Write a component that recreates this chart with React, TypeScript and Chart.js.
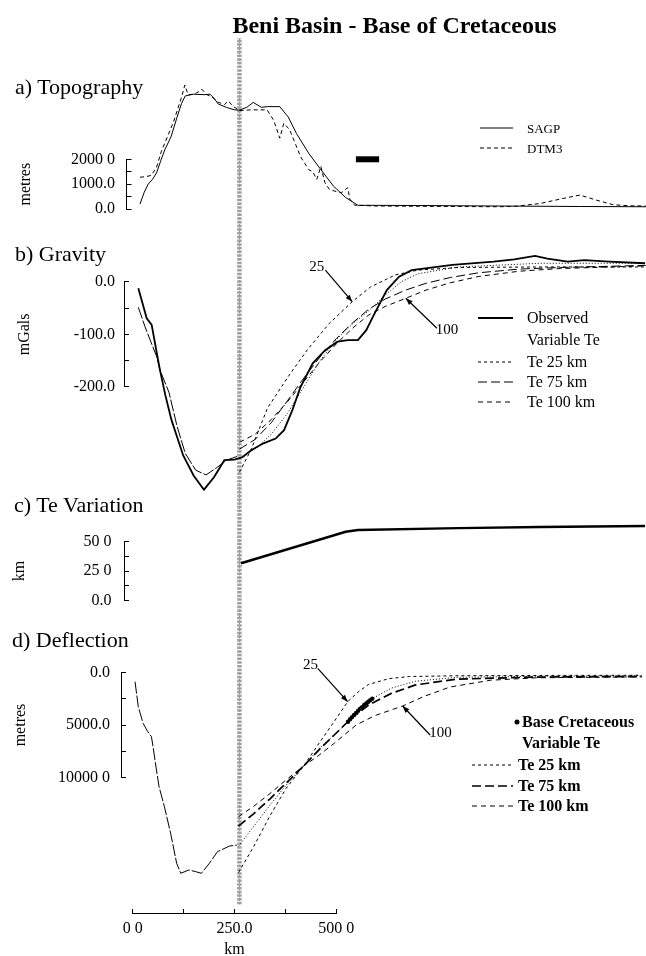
import React, { useEffect, useRef } from "react";
import { Chart, registerables } from "chart.js";

Chart.register(...registerables);

const FONT = "'Liberation Serif', 'Times New Roman', Times, serif";

/* ======================= DATA ======================= */
const chartTitle = "Beni Basin - Base of Cretaceous";
const panelTitles = ["a) Topography", "b) Gravity", "c) Te Variation", "d) Deflection"];

// x axis (km)
const xTickValues = [0, 250, 500];
const xTickLabels = ["0 0", "250.0", "500 0"];
const xAxisTitle = "km";
const breakKm = 262; // plate break (hatched line)
const breakSpan = [0.01, 1];

// a) Topography (metres)
const topoTickValues = [0, 1000, 2000];
const topoTickLabels = ["0.0", "1000.0", "2000 0"];
const sagpKm = [18, 28, 38, 48.5, 58.5, 68, 78.7, 94, 109, 120, 129, 149, 175, 190, 200, 210, 230, 250, 262, 280, 296, 316, 331, 361, 382, 402, 432, 462, 493, 523, 553, 700, 900, 1100, 1260];
const sagpM = [200, 660, 1000, 1190, 1450, 1900, 2380, 2900, 3700, 4250, 4550, 4620, 4600, 4620, 4450, 4225, 4090, 3990, 3980, 4090, 4290, 4090, 4120, 4120, 3700, 3040, 2245, 1585, 920, 460, 150, 140, 120, 100, 90];
const dtmKm = [18, 32, 45, 58, 70, 85, 100, 110, 120, 128, 136, 150, 160, 170, 180, 195, 210, 225, 235, 245, 262, 290, 330, 345, 352, 361, 371, 385, 400, 412, 420, 432, 442, 452, 462, 472, 483, 500, 513, 528, 533, 545, 600, 800, 900, 940, 1000, 1050, 1098, 1140, 1180, 1220, 1260];
const dtmM = [1280, 1300, 1350, 1650, 2300, 2900, 3500, 4000, 4500, 4990, 4600, 4620, 4700, 4820, 4620, 4500, 4300, 4200, 4350, 4150, 3960, 3990, 3990, 3600, 3300, 2850, 3445, 3200, 2600, 2110, 1900, 1585, 1500, 1190, 1715, 1057, 790, 700, 660, 860, 400, 150, 120, 100, 90, 110, 220, 400, 560, 350, 170, 130, 120];
const markKm = [548, 605];
const markM = [2000, 2000];
const topoLegendLabels = ["SAGP", "DTM3"];

// b) Gravity (mGals)
const gravTickValues = [-200, -100, 0];
const gravTickLabels = ["-200.0", "-100.0", "0.0"];
const obsKm = [13.8, 34.4, 46.6, 59, 67, 80, 95, 109, 124, 149.5, 175, 200, 225, 250, 270, 291, 321, 351, 371.6, 392, 412, 442, 472.6, 503, 528, 553, 573.5, 594, 624, 654, 685, 785, 886, 937, 988, 1018, 1068, 1109, 1170, 1258];
const obsMgal = [-12.5, -69.5, -82, -135, -168, -215, -262, -295, -330, -368, -395, -371, -339, -338, -333, -320, -307, -298, -282, -244, -200, -155, -130, -114, -111, -111, -92, -60, -16, 9.5, 22, 32, 38, 42.6, 49, 44, 38, 41, 38, 35];
const gLoadKm = [13.8, 30, 45, 59, 67, 89, 109, 129, 154.7, 180, 205, 230.5, 256];
const gLoadMgal = [-48.6, -85, -115, -142.5, -168, -210, -275, -326, -358, -367, -354, -339, -332];
const gTe25Km = [262, 290, 331, 382, 430, 483, 539, 584, 645, 700, 800, 1000, 1260];
const gTe25Mgal = [-362, -320, -240, -180, -128, -79, -38, -10, 13, 22, 27, 28, 28];
const gTe75Km = [262, 300, 340, 380, 420, 460, 500, 540, 580, 620, 670, 720, 780, 850, 950, 1050, 1260];
const gTe75Mgal = [-318, -300, -268, -226, -183, -143, -108, -78, -52, -33, -16, -3, 8, 17, 24, 27, 31];
const gTe100Km = [262, 300, 340, 380, 420, 460, 500, 540, 580, 620, 670.5, 720, 780, 850, 950, 1050, 1260];
const gTe100Mgal = [-305, -290, -262, -228, -190, -152, -118, -88, -63, -47, -31.5, -16, -2, 10, 20, 25, 30];
const gVarKm = [262, 300, 340, 380, 420, 460, 500, 540, 580, 620, 660, 700, 800, 1000, 1260];
const gVarMgal = [-335, -318, -290, -250, -200, -150, -110, -80, -55, -25, 0, 15, 28, 35, 35];
const gravLegendLabels = ["Observed", "Variable Te", "Te 25 km", "Te 75 km", "Te 100 km"];
const gravNoteLabels = ["25", "100"];
const gravNoteTextKm = [452, 772];
const gravNoteTextVal = [28.5, -91.7];
const gravNoteFromKm = [473, 747];
const gravNoteFromVal = [22, -88.5];
const gravNoteToKm = [539, 670.5];
const gravNoteToVal = [-38, -31.5];

// c) Te variation (km)
const teTickValues = [0, 25, 50];
const teTickLabels = ["0.0", "25 0", "50 0"];
const teKm = [266, 523, 553, 800, 1000, 1258];
const teVal = [31.6, 58.5, 60, 61.6, 62.6, 63.4];

// d) Deflection (metres, positive down)
const deflTickValues = [0, 5000, 10000];
const deflTickLabels = ["0.0", "5000.0", "10000 0"];
const dLoadKm = [6, 14, 26, 37, 46.6, 50.6, 59, 65.4, 78.7, 94, 109, 119, 139, 155, 170, 190, 210, 240, 258];
const dLoadM = [890, 3260, 4840, 5600, 6110, 7060, 9270, 10850, 12750, 15270, 18120, 19070, 18760, 18900, 19070, 18120, 17020, 16480, 16400];
const dTe25Km = [262, 300, 340, 380, 423, 460, 500, 532, 560, 584, 634, 685, 800, 1000, 1260];
const dTe25M = [19000, 16500, 13600, 11000, 8900, 6800, 4600, 2790, 1800, 1150, 600, 400, 330, 300, 280];
const dTe75Km = [262, 300, 340, 380, 423, 460, 500, 543, 584, 640, 700, 800, 1000, 1260];
const dTe75M = [14600, 13400, 12000, 10500, 8900, 7400, 5900, 4300, 3100, 2000, 1200, 650, 450, 400];
const dTe100Km = [262, 300, 340, 380, 423, 460, 500, 553, 600, 668, 720, 785, 886, 1000, 1260];
const dTe100M = [13700, 12700, 11500, 10200, 8900, 7900, 6700, 5000, 4100, 3200, 2300, 1400, 750, 520, 430];
const dVarKm = [262, 300, 340, 380, 423, 460, 500, 533, 563, 593, 640, 700, 800, 1000, 1260];
const dVarM = [16500, 14600, 12600, 10700, 8900, 7300, 5900, 4700, 3500, 2500, 1500, 850, 480, 380, 330];
const baseKm = [533, 538, 543, 548, 553, 558, 563, 568, 573, 578, 583, 588, 593];
const baseM = [4690, 4450, 4250, 4050, 3850, 3650, 3450, 3300, 3100, 2950, 2800, 2650, 2500];
const deflLegendLabels = ["Base Cretaceous", "Variable Te", "Te 25 km", "Te 75 km", "Te 100 km"];
const deflNoteLabels = ["25", "100"];
const deflNoteTextKm = [440, 762];
const deflNoteTextVal = [-690, 5760];
const deflNoteFromKm = [458, 736];
const deflNoteFromVal = [-380, 5950];
const deflNoteToKm = [532, 668];
const deflNoteToVal = [2790, 3200];

/* ======================= LAYOUT / STYLE ======================= */
const W = 646;
const H = 956;
const X0 = 132.7; // pixel of 0 km
const PXKM = 0.40728; // pixels per km

const GEO: any = {
  topo: { left: 126.5, top: 159.3, bottom: 209, labelPad: 16.5, titlePad: 16 },
  grav: { left: 124, top: 281.7, bottom: 387, labelPad: 14, titlePad: 15 },
  te: { left: 124, top: 541.7, bottom: 600.3, labelPad: 17.5, titlePad: 10.5 },
  defl: { left: 121, top: 672.3, bottom: 777.7, labelPad: 16, titlePad: 11.5 },
};

const ST: any = {
  sagp: { w: 1, dash: [] },
  dtm: { w: 1, dash: [4, 3] },
  obs: { w: 1.8, dash: [] },
  te25: { w: 1, dash: [3, 3] },
  te75: { w: 1, dash: [9, 4] },
  te75b: { w: 1.7, dash: [9, 4] },
  te100: { w: 1, dash: [5, 4] },
  varTe: { w: 1, dash: [1, 2] },
  load: { w: 1, dash: [12, 2] },
  mark: { w: 6, dash: [] },
  te: { w: 2.4, dash: [] },
};

function pts(km: number[], v: number[]) {
  return km.map((k, i) => ({ x: k, y: v[i] }));
}

function line(km: number[], v: number[], st: any, extra: any = {}) {
  return {
    data: pts(km, v),
    borderColor: "#000",
    backgroundColor: "#000",
    borderWidth: st.w,
    borderDash: st.dash,
    borderCapStyle: "butt",
    pointRadius: 0,
    tension: 0,
    clip: false,
    ...extra,
  };
}

function labelFor(values: number[], labels: string[], v: any) {
  const i = values.findIndex((t) => Math.abs(t - Number(v)) < 1e-6);
  return i >= 0 ? labels[i] : "";
}

function notePlugin(n: any) {
  return {
    id: "arrowNotes",
    afterDatasetsDraw(chart: any) {
      const { ctx } = chart;
      const xs = chart.scales.x;
      const ys = chart.scales.y;
      ctx.save();
      ctx.strokeStyle = "#000";
      ctx.fillStyle = "#000";
      ctx.lineWidth = 1.2;
      n.labels.forEach((lab: string, i: number) => {
        const x1 = xs.getPixelForValue(n.fromKm[i]);
        const y1 = ys.getPixelForValue(n.fromV[i]);
        const x2 = xs.getPixelForValue(n.toKm[i]);
        const y2 = ys.getPixelForValue(n.toV[i]);
        ctx.beginPath();
        ctx.moveTo(x1, y1);
        ctx.lineTo(x2, y2);
        ctx.stroke();
        const a = Math.atan2(y2 - y1, x2 - x1);
        const c = Math.cos(a);
        const s = Math.sin(a);
        const L = 7;
        const hw = 2.6;
        ctx.beginPath();
        ctx.moveTo(x2, y2);
        ctx.lineTo(x2 - L * c + hw * s, y2 - L * s - hw * c);
        ctx.lineTo(x2 - L * c - hw * s, y2 - L * s + hw * c);
        ctx.closePath();
        ctx.fill();
        ctx.font = `15px ${FONT}`;
        ctx.textAlign = "center";
        ctx.textBaseline = "middle";
        ctx.fillText(lab, xs.getPixelForValue(n.textKm[i]), ys.getPixelForValue(n.textV[i]));
      });
      ctx.restore();
    },
  };
}

function makePanel(canvas: HTMLCanvasElement, geo: any, axis: any, datasets: any[], plugins: any[] = []) {
  const xmin = -(X0 - geo.left) / PXKM;
  const xmax = (W - X0) / PXKM;
  return new Chart(canvas, {
    type: "line",
    data: { datasets },
    options: {
      responsive: false,
      animation: false,
      events: [],
      devicePixelRatio: 1,
      layout: { padding: { left: 0, right: 0, top: geo.top, bottom: H - geo.bottom } },
      plugins: { legend: { display: false }, tooltip: { enabled: false } },
      scales: {
        x: { type: "linear", display: false, min: xmin, max: xmax },
        y: {
          type: "linear",
          min: axis.min,
          max: axis.max,
          reverse: !!axis.reverse,
          afterFit: (s: any) => {
            s.width = geo.left;
          },
          border: { display: true, color: "#000", width: 1, dash: axis.dash || [] },
          grid: { drawOnChartArea: false, drawTicks: true, tickLength: -5, color: "#000", lineWidth: 1 },
          ticks: {
            stepSize: axis.step,
            autoSkip: false,
            padding: geo.labelPad,
            color: "#000",
            font: { family: FONT, size: 16 },
            callback: (v: any) => labelFor(axis.values, axis.labels, v),
          },
          title: {
            display: true,
            text: axis.title,
            color: "#000",
            font: { family: FONT, size: 16, lineHeight: 1.2 },
            padding: { top: geo.titlePad, bottom: 0 },
          },
        },
      },
    } as any,
    plugins,
  } as any);
}

function makeFrame(canvas: HTMLCanvasElement) {
  return new Chart(canvas, {
    type: "line",
    data: {
      datasets: [
        { data: pts([breakKm, breakKm], breakSpan), borderColor: "#a0a0a0", borderWidth: 4.5, borderDash: [2.5, 1.2], pointRadius: 0 },
        { data: pts([breakKm, breakKm], breakSpan), borderColor: "#555", borderWidth: 1, borderDash: [1, 2.5], pointRadius: 0 },
      ],
    },
    options: {
      responsive: false,
      animation: false,
      events: [],
      devicePixelRatio: 1,
      layout: { padding: { left: X0, right: W - X0 - 500 * PXKM, top: 38, bottom: 0 } },
      plugins: { legend: { display: false }, tooltip: { enabled: false } },
      scales: {
        x: {
          type: "linear",
          position: "bottom",
          min: 0,
          max: 500,
          afterFit: (s: any) => {
            s.height = 43;
          },
          border: { display: true, color: "#000", width: 1 },
          grid: { drawOnChartArea: false, drawTicks: true, tickLength: -4, color: "#000", lineWidth: 1 },
          ticks: {
            stepSize: 125,
            autoSkip: false,
            maxRotation: 0,
            padding: 10,
            color: "#000",
            font: { family: FONT, size: 16 },
            callback: (v: any) => labelFor(xTickValues, xTickLabels, v),
          },
          title: {
            display: true,
            text: xAxisTitle,
            color: "#000",
            font: { family: FONT, size: 16, lineHeight: 1 },
            padding: { top: 0, bottom: -2 },
          },
        },
        y: { type: "linear", display: false, min: 0, max: 1 },
      },
    } as any,
  } as any);
}

const TXT: React.CSSProperties = {
  position: "absolute",
  fontFamily: FONT,
  color: "#000",
  whiteSpace: "nowrap",
  lineHeight: 1,
};

function LegendRow(p: any) {
  const w = p.x2 - p.x1;
  return (
    <>
      {p.style ? (
        <svg style={{ position: "absolute", left: p.x1, top: p.y - 4, overflow: "visible" }} width={w} height={8}>
          <line
            x1={0}
            y1={4}
            x2={w}
            y2={4}
            stroke="#000"
            strokeWidth={p.style.w}
            strokeDasharray={p.style.dash.length ? p.style.dash.join(" ") : undefined}
          />
        </svg>
      ) : null}
      {p.dot ? (
        <svg style={{ position: "absolute", left: p.dot - 3, top: p.y - 3 }} width={6} height={6}>
          <circle cx={3} cy={3} r={2.5} fill="#000" />
        </svg>
      ) : null}
      <div
        style={{
          ...TXT,
          left: p.textX,
          top: p.y - p.size / 2,
          fontSize: p.size,
          fontWeight: p.bold ? "bold" : "normal",
        }}
      >
        {p.text}
      </div>
    </>
  );
}

export default function App() {
  const frameRef = useRef<HTMLCanvasElement>(null);
  const topoRef = useRef<HTMLCanvasElement>(null);
  const gravRef = useRef<HTMLCanvasElement>(null);
  const teRef = useRef<HTMLCanvasElement>(null);
  const deflRef = useRef<HTMLCanvasElement>(null);

  useEffect(() => {
    const charts: Chart[] = [];
    charts.push(makeFrame(frameRef.current!));
    charts.push(
      makePanel(
        topoRef.current!,
        GEO.topo,
        { min: 0, max: 2000, step: 500, values: topoTickValues, labels: topoTickLabels, title: "metres", dash: [3, 3] },
        [line(sagpKm, sagpM, ST.sagp), line(dtmKm, dtmM, ST.dtm), line(markKm, markM, ST.mark)]
      )
    );
    charts.push(
      makePanel(
        gravRef.current!,
        GEO.grav,
        { min: -200, max: 0, step: 50, values: gravTickValues, labels: gravTickLabels, title: "mGals" },
        [
          line(obsKm, obsMgal, ST.obs),
          line(gLoadKm, gLoadMgal, ST.load),
          line(gVarKm, gVarMgal, ST.varTe),
          line(gTe25Km, gTe25Mgal, ST.te25),
          line(gTe75Km, gTe75Mgal, ST.te75),
          line(gTe100Km, gTe100Mgal, ST.te100),
        ],
        [
          notePlugin({
            labels: gravNoteLabels,
            textKm: gravNoteTextKm,
            textV: gravNoteTextVal,
            fromKm: gravNoteFromKm,
            fromV: gravNoteFromVal,
            toKm: gravNoteToKm,
            toV: gravNoteToVal,
          }),
        ]
      )
    );
    charts.push(
      makePanel(
        teRef.current!,
        GEO.te,
        { min: 0, max: 50, step: 12.5, values: teTickValues, labels: teTickLabels, title: "km" },
        [line(teKm, teVal, ST.te)]
      )
    );
    charts.push(
      makePanel(
        deflRef.current!,
        GEO.defl,
        { min: 0, max: 10000, step: 2500, reverse: true, values: deflTickValues, labels: deflTickLabels, title: "metres" },
        [
          line(dLoadKm, dLoadM, ST.load),
          line(dVarKm, dVarM, ST.varTe),
          line(dTe25Km, dTe25M, ST.te25),
          line(dTe75Km, dTe75M, ST.te75b),
          line(dTe100Km, dTe100M, ST.te100),
          line(baseKm, baseM, ST.sagp, { showLine: false, pointRadius: 2.2, pointBackgroundColor: "#000", pointBorderWidth: 0 }),
        ],
        [
          notePlugin({
            labels: deflNoteLabels,
            textKm: deflNoteTextKm,
            textV: deflNoteTextVal,
            fromKm: deflNoteFromKm,
            fromV: deflNoteFromVal,
            toKm: deflNoteToKm,
            toV: deflNoteToVal,
          }),
        ]
      )
    );
    return () => charts.forEach((c) => c.destroy());
  }, []);

  const cv: React.CSSProperties = { position: "absolute", left: 0, top: 0 };
  const panelTop = [75.5, 243.3, 493.6, 628.6];
  const panelLeft = [15, 15, 14, 12];

  const topoY = [128.3, 148.3];
  const gravY = [318.3, 340, 361.7, 381.7, 402.3];
  const deflY = [721.7, 743.3, 765, 785.7, 805.7];
  const gravStyles = [ST.obs, null, ST.te25, ST.te75, ST.te100];
  const deflStyles = [null, null, ST.te25, ST.te75b, ST.te100];

  return (
    <div style={{ position: "fixed", left: 0, top: 0, width: W, height: H, background: "#fff", overflow: "hidden" }}>
      <canvas ref={frameRef} width={W} height={H} style={cv} />
      <canvas ref={topoRef} width={W} height={H} style={cv} />
      <canvas ref={gravRef} width={W} height={H} style={cv} />
      <canvas ref={teRef} width={W} height={H} style={cv} />
      <canvas ref={deflRef} width={W} height={H} style={cv} />

      <div style={{ ...TXT, left: 394.5, top: 12.9, fontSize: 24, fontWeight: "bold", transform: "translateX(-50%)" }}>
        {chartTitle}
      </div>
      {panelTitles.map((t, i) => (
        <div key={t} style={{ ...TXT, left: panelLeft[i], top: panelTop[i], fontSize: 22 }}>
          {t}
        </div>
      ))}

      {topoLegendLabels.map((t, i) => (
        <LegendRow key={t} x1={480} x2={513} y={topoY[i]} textX={527} size={13} text={t} style={i === 0 ? ST.sagp : ST.dtm} />
      ))}
      {gravLegendLabels.map((t, i) => (
        <LegendRow key={t} x1={478} x2={513} y={gravY[i]} textX={527} size={16} text={t} style={gravStyles[i]} />
      ))}
      {deflLegendLabels.map((t, i) => (
        <LegendRow
          key={t}
          x1={472}
          x2={513}
          y={deflY[i]}
          textX={i < 2 ? 522 : 518}
          size={16}
          bold
          text={t}
          style={deflStyles[i]}
          dot={i === 0 ? 517 : 0}
        />
      ))}
    </div>
  );
}
